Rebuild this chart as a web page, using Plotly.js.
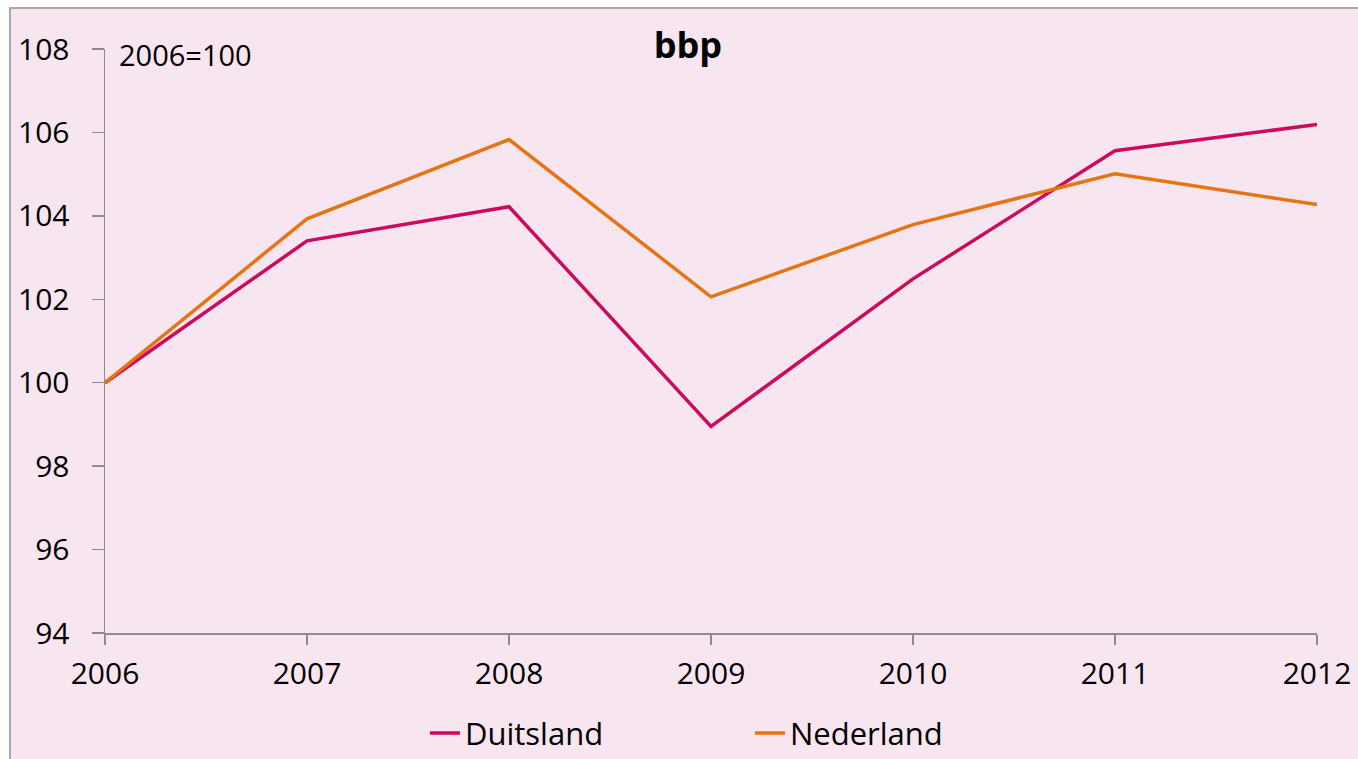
<!DOCTYPE html>
<html><head><meta charset="utf-8">
<script src="https://cdn.plot.ly/plotly-3.0.1.min.js"></script>
<style>
html,body{margin:0;padding:0;background:#fff;width:1358px;height:759px;overflow:hidden;}
#bg{position:absolute;left:9px;top:7px;width:1360px;height:760px;border:2px solid #a9a9a9;background:#f7e6f0;}
#chart{position:absolute;left:0;top:0;width:1358px;height:759px;}
</style></head>
<body>
<div id="bg"></div>
<div id="chart"></div>
<script>
const years = [2006, 2007, 2008, 2009, 2010, 2011, 2012];
const duitsland = [100, 103.4, 104.22, 98.95, 102.49, 105.56, 106.19];
const nederland = [100, 103.93, 105.83, 102.06, 103.79, 105.01, 104.27];
const yTicks = [94, 96, 98, 100, 102, 104, 106, 108];

const FONT = '"Open Sans", "DejaVu Sans", sans-serif';
const traces = [
  {x: years, y: duitsland, name: 'Duitsland', type: 'scatter', mode: 'lines',
   line: {color: '#cc0a5e', width: 3.5}},
  {x: years, y: nederland, name: 'Nederland', type: 'scatter', mode: 'lines',
   line: {color: '#e57514', width: 3.5}}
];
const layout = {
  width: 1358, height: 759,
  paper_bgcolor: 'rgba(0,0,0,0)', plot_bgcolor: 'rgba(0,0,0,0)',
  margin: {l: 105, r: 41, t: 49, b: 126, autoexpand: false},
  font: {family: FONT, color: '#000', size: 30},
  title: {text: '<b>bbp</b>', font: {size: 36, family: FONT, color: '#000'},
          x: 0.481, xref: 'paper', xanchor: 'center', y: 0.94, yref: 'container', yanchor: 'middle'},
  xaxis: {range: [2006, 2012], tickvals: years, ticktext: years.map(String),
          showgrid: false, zeroline: false, showline: true, linecolor: '#8c8c8c', linewidth: 1.5,
          ticks: 'outside', ticklen: 10, tickwidth: 1.5, tickcolor: '#8c8c8c',
          tickfont: {size: 30}, ticklabelstandoff: 3},
  yaxis: {range: [94, 108], tickvals: yTicks, ticktext: yTicks.map(String),
          showgrid: false, zeroline: false, showline: true, linecolor: '#8c8c8c', linewidth: 1.5,
          ticks: 'outside', ticklen: 12, tickwidth: 1.5, tickcolor: '#8c8c8c',
          tickfont: {size: 30}, ticklabelstandoff: 16},
  showlegend: true,
  legend: {orientation: 'h', x: 0.264, xanchor: 'left', y: -0.172, yanchor: 'middle',
           font: {size: 31}, bgcolor: 'rgba(0,0,0,0)', entrywidth: 280, entrywidthmode: 'pixels'},
  annotations: [{text: '2006=100', xref: 'paper', yref: 'paper', x: 0.0099, y: 0.99,
                 xanchor: 'left', yanchor: 'middle', showarrow: false, font: {size: 29}}]
};
Plotly.newPlot('chart', traces, layout, {displayModeBar: false, staticPlot: true});
</script>
</body></html>
